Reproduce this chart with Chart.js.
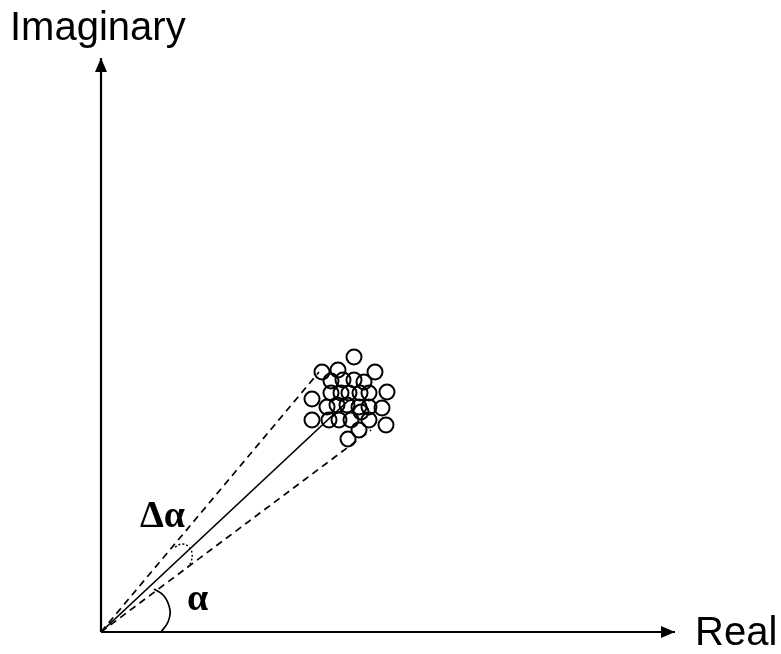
<!DOCTYPE html>
<html>
<head>
<meta charset="utf-8">
<script src="https://cdn.jsdelivr.net/npm/chart.js"></script>
<style>
  html, body { margin: 0; padding: 0; background: #fff; }
  canvas { display: block; }
</style>
</head>
<body>
<canvas id="chart" width="781" height="654"></canvas>
<script>
// measured samples (arbitrary units, origin at the corner of the axes)
const clusterX = [5.06, 4.42, 4.74, 5.48, 4.60, 4.84, 5.06, 5.26, 5.72, 4.22,
                  4.60, 4.80, 4.96, 5.18, 5.36, 4.52, 4.72, 4.92, 5.16, 5.36,
                  5.62, 4.22, 4.56, 4.76, 5.00, 5.20, 5.36, 5.70, 5.16, 4.94];
const clusterY = [5.50, 5.20, 5.24, 5.20, 5.02, 5.04, 5.04, 5.00, 4.80, 4.66,
                  4.78, 4.78, 4.78, 4.78, 4.78, 4.50, 4.54, 4.54, 4.50, 4.50,
                  4.48, 4.24, 4.24, 4.24, 4.24, 4.40, 4.24, 4.14, 4.04, 3.86];

const origin = [0, 0];
const meanRay = [4.96, 4.64];
const upperRay = [4.36, 5.20];
const lowerRay = [5.40, 4.04];

const realAxisEnd = [11.48, 0];
const imagAxisEnd = [0, 11.48];

const alphaArcX = [1.06, 1.26, 1.38, 1.34, 1.20];
const alphaArcY = [0.86, 0.72, 0.44, 0.20, 0.00];
const deltaArcX = [1.48, 1.62, 1.76, 1.82, 1.80, 1.72];
const deltaArcY = [1.70, 1.76, 1.70, 1.58, 1.40, 1.28];

const toPoints = (xs, ys) => xs.map((x, i) => ({ x: x, y: ys[i] }));
const segment = (a, b) => [{ x: a[0], y: a[1] }, { x: b[0], y: b[1] }];

const lineStyle = {
  type: 'line',
  borderColor: '#000',
  backgroundColor: '#000',
  pointRadius: 0,
  fill: false
};

const sansFont = '40px "Liberation Sans", Arial, sans-serif';
const greekFont = 'bold 38px "Liberation Serif", "Times New Roman", serif';

const labels = [
  { text: 'Imaginary', x: -1.82, y: 11.84, font: sansFont },
  { text: 'Real', x: 11.88, y: -0.26, font: sansFont },
  { text: 'Δα', x: 0.78, y: 2.10, font: greekFont },
  { text: 'α', x: 1.72, y: 0.44, font: greekFont }
];

const decorations = {
  id: 'decorations',
  afterDatasetsDraw(chart) {
    const { ctx, scales } = chart;
    const px = p => [scales.x.getPixelForValue(p[0]), scales.y.getPixelForValue(p[1])];

    // arrow heads on both axes
    ctx.save();
    ctx.fillStyle = '#000';
    const arrow = (tip, dir) => {
      const [tx, ty] = px(tip);
      const len = 14, half = 6;
      ctx.beginPath();
      if (dir === 'up') {
        ctx.moveTo(tx, ty);
        ctx.lineTo(tx - half, ty + len);
        ctx.lineTo(tx + half, ty + len);
      } else {
        ctx.moveTo(tx, ty);
        ctx.lineTo(tx - len, ty - half);
        ctx.lineTo(tx - len, ty + half);
      }
      ctx.closePath();
      ctx.fill();
    };
    arrow(imagAxisEnd, 'up');
    arrow(realAxisEnd, 'right');

    ctx.textBaseline = 'alphabetic';
    ctx.textAlign = 'left';
    labels.forEach(l => {
      const [lx, ly] = px([l.x, l.y]);
      ctx.font = l.font;
      ctx.fillText(l.text, lx, ly);
    });
    ctx.restore();
  }
};

new Chart(document.getElementById('chart'), {
  type: 'scatter',
  data: {
    datasets: [
      { ...lineStyle, data: segment(origin, realAxisEnd), borderWidth: 2.2 },
      { ...lineStyle, data: segment(origin, imagAxisEnd), borderWidth: 2.2 },
      { ...lineStyle, data: segment(origin, meanRay), borderWidth: 1.7 },
      { ...lineStyle, data: segment(origin, upperRay), borderWidth: 1.7, borderDash: [7, 5] },
      { ...lineStyle, data: segment(origin, lowerRay), borderWidth: 1.7, borderDash: [7, 5] },
      { ...lineStyle, data: toPoints(alphaArcX, alphaArcY), borderWidth: 1.7, tension: 0.4 },
      { ...lineStyle, data: toPoints(deltaArcX, deltaArcY), borderWidth: 1.4, tension: 0.4, borderDash: [2, 2] },
      {
        type: 'scatter',
        data: toPoints(clusterX, clusterY),
        pointRadius: 7.5,
        pointBorderWidth: 2,
        pointBorderColor: '#000',
        pointBackgroundColor: 'rgba(0,0,0,0)'
      }
    ]
  },
  options: {
    responsive: false,
    animation: false,
    layout: { padding: 0, autoPadding: false },
    plugins: {
      legend: { display: false },
      tooltip: { enabled: false }
    },
    scales: {
      x: { type: 'linear', display: false, min: -2.02, max: 13.60 },
      y: { type: 'linear', display: false, min: -0.44, max: 12.64 }
    }
  },
  plugins: [decorations]
});
</script>
</body>
</html>
